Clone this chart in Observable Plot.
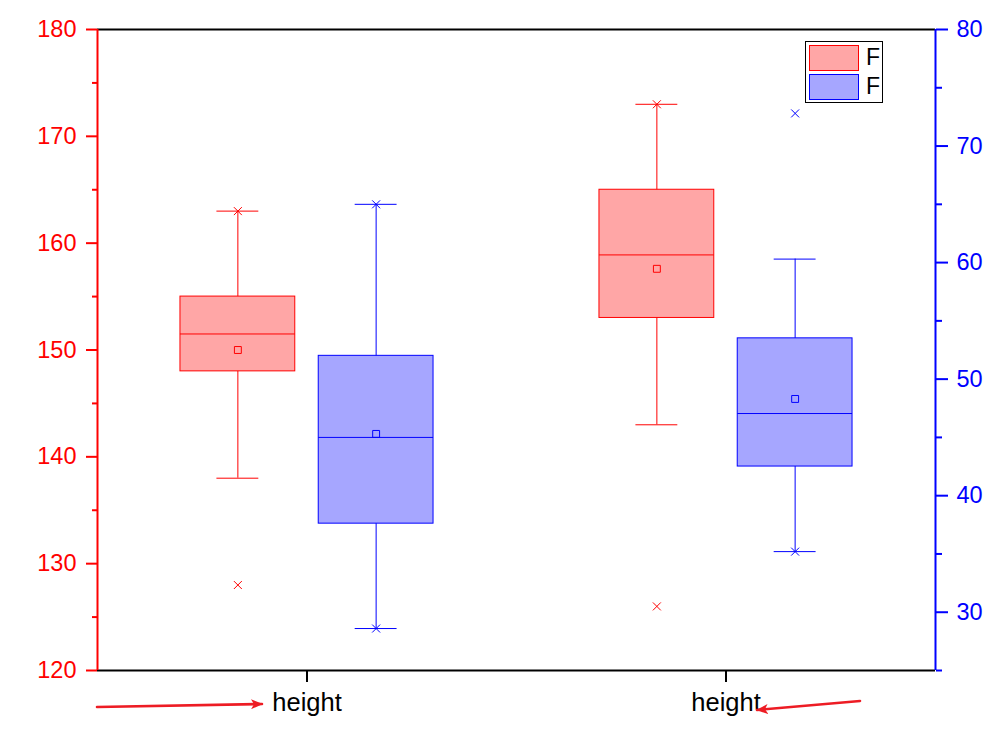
<!DOCTYPE html>
<html>
<head>
<meta charset="utf-8">
<script src="https://cdn.jsdelivr.net/npm/d3@7"></script>
<script src="https://cdn.jsdelivr.net/npm/@observablehq/plot@0.6"></script>
<style>
  html, body { margin: 0; padding: 0; background: #fff; }
  #wrap { position: relative; width: 1003px; height: 743px; font-family: "Liberation Sans", Arial, sans-serif; }
  #legend { position: absolute; left: 805px; top: 41px; width: 76px; height: 60px; border: 1.3px solid #000; background: #fff; }
  .sw { position: absolute; left: 3px; width: 50px; height: 26px; box-sizing: border-box; }
  .lt { position: absolute; left: 60px; font-size: 23px; line-height: 26px; color: #000; }
  #arrows { position: absolute; left: 0; top: 0; pointer-events: none; }
</style>
</head>
<body>
<div id="wrap"></div>
<script>
// ---------- data ----------
const groupLabels = ["height", "height"];
const seriesNames = ["F", "F"];
const leftDomain = [120, 180];
const rightDomain = [25, 80];
const leftMajor = [120, 130, 140, 150, 160, 170, 180];
const leftMinor = [125, 135, 145, 155, 165, 175];
const rightMajor = [30, 40, 50, 60, 70, 80];
const rightMinor = [25, 35, 45, 55, 65, 75];

// red series (left axis)
const redLow = [138, 143];
const redQ1 = [148, 153];
const redMedian = [151.5, 158.9];
const redQ3 = [155, 165];
const redHigh = [163, 173];
const redMean = [150, 157.6];
const redMarks = [[163, 128], [173, 126]];

// blue series (right axis)
const blueLow = [28.6, 35.2];
const blueQ1 = [37.6, 42.5];
const blueMedian = [45.0, 47.05];
const blueQ3 = [52, 53.5];
const blueHigh = [65, 60.3];
const blueMean = [45.3, 48.3];
const blueMarks = [[65, 28.6], [72.8, 35.2]];

// ---------- layout constants ----------
const RED = "#ff0000", BLUE = "#0000ff";
const RED_FILL = "#ffa6a6", BLUE_FILL = "#a6a6ff";
const offset = 0.165, boxHalf = 0.137, capHalf = 0.05;
const xDomain = [0.5, 2.5];
const FONT = "Liberation Sans, Arial, sans-serif";

const toLeft = v => leftDomain[0] + (v - rightDomain[0]) * (leftDomain[1] - leftDomain[0]) / (rightDomain[1] - rightDomain[0]);
const fromLeft = v => rightDomain[0] + (v - leftDomain[0]) * (rightDomain[1] - rightDomain[0]) / (leftDomain[1] - leftDomain[0]);

const rows = [];
const markRows = [];
groupLabels.forEach((g, i) => {
  rows.push({x: i + 1 - offset, low: redLow[i], q1: redQ1[i], med: redMedian[i], q3: redQ3[i], high: redHigh[i], mean: redMean[i], stroke: RED, fill: RED_FILL});
  rows.push({x: i + 1 + offset, low: toLeft(blueLow[i]), q1: toLeft(blueQ1[i]), med: toLeft(blueMedian[i]), q3: toLeft(blueQ3[i]), high: toLeft(blueHigh[i]), mean: toLeft(blueMean[i]), stroke: BLUE, fill: BLUE_FILL});
  redMarks[i].forEach(v => markRows.push({x: i + 1 - offset, y: v, stroke: RED}));
  blueMarks[i].forEach(v => markRows.push({x: i + 1 + offset, y: toLeft(v), stroke: BLUE}));
});

const axisText = {fontSize: 23.5, fontFamily: FONT};
const noLabel = () => "";

const chart = Plot.plot({
  width: 1003,
  height: 743,
  marginLeft: 97,
  marginRight: 68,
  marginTop: 29,
  marginBottom: 73,
  style: {background: "#fff", fontFamily: FONT, overflow: "visible"},
  x: {type: "linear", domain: xDomain},
  y: {domain: leftDomain},
  marks: [
    // boxes
    Plot.rect(rows, {x1: d => d.x - boxHalf, x2: d => d.x + boxHalf, y1: "q1", y2: "q3", fill: d => d.fill, stroke: d => d.stroke, strokeWidth: 1}),
    Plot.ruleY(rows, {y: "med", x1: d => d.x - boxHalf, x2: d => d.x + boxHalf, stroke: d => d.stroke, strokeWidth: 1}),
    // whiskers
    Plot.ruleX(rows, {x: "x", y1: "q3", y2: "high", stroke: d => d.stroke, strokeWidth: 1}),
    Plot.ruleX(rows, {x: "x", y1: "low", y2: "q1", stroke: d => d.stroke, strokeWidth: 1}),
    Plot.ruleY(rows, {y: "high", x1: d => d.x - capHalf, x2: d => d.x + capHalf, stroke: d => d.stroke, strokeWidth: 1}),
    Plot.ruleY(rows, {y: "low", x1: d => d.x - capHalf, x2: d => d.x + capHalf, stroke: d => d.stroke, strokeWidth: 1}),
    // mean
    Plot.dot(rows, {x: "x", y: "mean", symbol: "square", r: 3.9, stroke: d => d.stroke, fill: "none", strokeWidth: 1}),
    // min/max/outliers
    Plot.dot(markRows, {x: "x", y: "y", symbol: "times", r: 3.7, stroke: d => d.stroke, strokeWidth: 1}),
    // frame
    Plot.ruleY([leftDomain[1]], {stroke: "#000", strokeWidth: 2}),
    Plot.ruleY([leftDomain[0]], {stroke: "#000", strokeWidth: 2}),
    Plot.ruleX([xDomain[0]], {stroke: RED, strokeWidth: 2}),
    Plot.ruleX([xDomain[1]], {stroke: BLUE, strokeWidth: 2}),
    // left axis
    Plot.axisY({anchor: "left", ticks: leftMajor, tickSize: 11, tickPadding: 10, color: RED, strokeWidth: 2, label: null, ...axisText}),
    Plot.axisY({anchor: "left", ticks: leftMinor, tickSize: 5, tickFormat: noLabel, color: RED, strokeWidth: 2, label: null}),
    // right axis
    Plot.axisY({anchor: "right", ticks: rightMajor.map(toLeft), tickFormat: d => String(Math.round(fromLeft(d))), tickSize: 12, tickPadding: 9, color: BLUE, strokeWidth: 2, label: null, ...axisText}),
    Plot.axisY({anchor: "right", ticks: rightMinor.map(toLeft), tickSize: 6, tickFormat: noLabel, color: BLUE, strokeWidth: 2, label: null}),
    // bottom axis
    Plot.axisX({anchor: "bottom", ticks: [1, 2], tickFormat: d => groupLabels[d - 1], tickSize: 12, tickPadding: 10, color: "#000", strokeWidth: 2, label: null, fontSize: 25.5, fontFamily: FONT})
  ]
});

const wrap = document.getElementById("wrap");
wrap.appendChild(chart);

// legend
const legend = document.createElement("div");
legend.id = "legend";
const fills = [[RED_FILL, RED], [BLUE_FILL, BLUE]];
fills.forEach(([f, s], i) => {
  const sw = document.createElement("div");
  sw.className = "sw";
  sw.style.top = (3 + i * 29) + "px";
  sw.style.background = f;
  sw.style.border = "1.3px solid " + s;
  legend.appendChild(sw);
  const t = document.createElement("div");
  t.className = "lt";
  t.style.top = (2 + i * 29) + "px";
  t.textContent = seriesNames[i];
  legend.appendChild(t);
});
wrap.appendChild(legend);

// annotation arrows
const svg = d3.create("svg").attr("id", "arrows").attr("width", 1003).attr("height", 743);
svg.append("defs").append("marker")
  .attr("id", "ah").attr("viewBox", "0 0 12 10").attr("refX", 11).attr("refY", 5)
  .attr("markerWidth", 12).attr("markerHeight", 10).attr("markerUnits", "userSpaceOnUse").attr("orient", "auto")
  .append("path").attr("d", "M0,0 L12,5 L0,10 L3,5 Z").attr("fill", "#ed1c24");
const arrowLines = [[97, 707, 262, 704], [860, 701, 757, 710]];
arrowLines.forEach(([x1, y1, x2, y2]) => {
  svg.append("line").attr("x1", x1).attr("y1", y1).attr("x2", x2).attr("y2", y2)
    .attr("stroke", "#ed1c24").attr("stroke-width", 2.6).attr("stroke-linecap", "round")
    .attr("marker-end", "url(#ah)");
});
wrap.appendChild(svg.node());
</script>
</body>
</html>
